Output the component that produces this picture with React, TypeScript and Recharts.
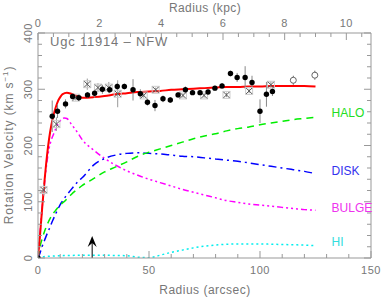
import {
    ComposedChart,
    Line,
    Scatter,
    XAxis,
    YAxis,
    ErrorBar,
    ReferenceLine,
    ReferenceDot
} from "recharts"

// model curves, radius in arcsec, velocity in km/s
const modelRadius = [0, 1, 2, 3, 4, 5, 6, 7, 8, 9, 10, 11, 12, 13, 15, 18, 20, 25, 30, 35, 40, 45, 50, 55, 60, 65, 70, 75, 80, 85, 90, 95, 100, 105, 110, 115, 120, 125]
const totalCurve = [0, 45, 95, 140, 180, 212, 236, 254, 268, 279, 286, 291, 293, 294, 292, 287, 285, 286, 288, 291, 293, 295, 296, 297, 299, 300, 301, 302, 303, 304, 304, 305, 305, 306, 306, 306, 306, 305]
const haloCurve = [0, 22, 36, 48, 58, 67, 74, 80, 85, 90, 94, 98, 101, 105, 113, 123, 129, 141, 153, 162, 171, 181, 188, 194, 200, 206, 212, 217, 221, 226, 230, 233, 237, 240, 243, 246, 248, 250]
const diskCurve = [0, 10, 22, 32, 42, 51, 61, 70, 79, 87, 95, 101, 107, 112, 122, 136, 143, 165, 177, 183, 186, 187, 186, 185, 183, 181, 180, 178, 176, 174, 172, 169, 166, 163, 160, 157, 154, 150]
const bulgeCurve = [0, 48, 95, 135, 170, 195, 210, 220, 230, 238, 244, 248, 249, 248, 238, 222, 210, 192, 177, 165, 155, 147, 140, 134, 128, 122, 117, 112, 107, 102, 99, 96, 94, 92, 90, 88, 86, 85]
const hiCurve = [0, 1, 2, 2.5, 3, 3, 3.5, 3.5, 4, 4, 4, 4, 4.5, 4.5, 4.5, 5, 5, 5, 5, 4.5, 4, 1.5, 0.5, 5, 10, 14, 18, 21, 23, 24.5, 25, 25, 25, 24.5, 24, 23.5, 23, 22]

// observed points
const filledRadius = [0, 6.4, 8.8, 12.4, 15.6, 18.4, 22.3, 25.5, 29, 32.3, 35.7, 38.9, 42.8, 46.1, 49.3, 52.7, 56.3, 59.6, 63.1, 66.4, 69.6, 73, 76.6, 79.7, 82.9, 86.7, 89.7, 93.3, 96.4, 100, 102.9, 105.6]
const filledVelocity = [0, 252, 261, 274, 287, 285, 290, 293, 300, 299, 305, 305, 299, 292, 277, 271, 283, 281, 290, 299, 294, 294, 295, 302, 306, 328, 321, 321, 312, 261, 291, 296]
const filledError = [0, 28, 12, 8, 5, 4, 5, 8, 8, 6, 6, 5, 19, 8, 6, 10, 6, 5, 5, 6, 4, 4, 4, 4, 5, 5, 8, 20, 12, 21, 22, 8]

const crossRadius = [2.5, 8.3, 17, 22.2, 27, 31.9, 35.9, 47.6, 53, 65.3, 74.8, 84.9, 95.1, 104.9]
const crossVelocity = [121, 238, 285, 309, 303, 303, 292, 289, 299, 289, 289, 290, 297, 308]
const crossError = [10, 12, 5, 10, 8, 10, 24, 4, 4, 4, 4, 4, 4, 6]

const openRadius = [115, 124.7]
const openVelocity = [316, 325]
const openError = [8, 8]

const arcsecTicks = [0, 10, 20, 30, 40, 50, 60, 70, 80, 90, 100, 110, 120, 130, 140, 150]
const kpcTicks = [0, 0.5, 1, 1.5, 2, 2.5, 3, 3.5, 4, 4.5, 5, 5.5, 6, 6.5, 7, 7.5, 8, 8.5, 9, 9.5, 10, 10.5]
const velocityTicks = [0, 20, 40, 60, 80, 100, 120, 140, 160, 180, 200, 220, 240, 260, 280, 300, 320, 340, 360, 380, 400]

const AXIS = "#999"
const TEXT = "#777"
const FONT = "'Liberation Sans', Arial, sans-serif"

const curve = (ys: number[]) => modelRadius.map((r, i) => ({ r, v: ys[i] }))
const points = (xs: number[], ys: number[], es: number[]) => xs.map((r, i) => ({ r, v: ys[i], err: es[i] }))

function BottomTick({ x, y, payload }: any) {
    const major = payload.value % 50 === 0
    return (
        <g>
            <line x1={x} x2={x} y1={y} y2={y - (major ? 7 : 4)} stroke={AXIS} />
            {major && (
                <text x={x} y={y + 16} textAnchor="middle" fontSize={11} fill={TEXT} fontFamily={FONT} letterSpacing={0.5}>
                    {payload.value}
                </text>
            )}
        </g>
    )
}

function TopTick({ x, y, payload }: any) {
    const major = payload.value % 2 === 0
    return (
        <g>
            <line x1={x} x2={x} y1={y} y2={y + (major ? 7 : 4)} stroke={AXIS} />
            {major && (
                <text x={x} y={y - 6} textAnchor="middle" fontSize={11} fill={TEXT} fontFamily={FONT} letterSpacing={0.5}>
                    {payload.value}
                </text>
            )}
        </g>
    )
}

function LeftTick({ x, y, payload }: any) {
    const major = payload.value % 100 === 0
    const tx = x - 6
    return (
        <g>
            <line x1={x} x2={x + (major ? 7 : 4)} y1={y} y2={y} stroke={AXIS} />
            {major && (
                <text x={tx} y={y} transform={`rotate(-90 ${tx} ${y})`} textAnchor="middle" fontSize={11} fill={TEXT} fontFamily={FONT} letterSpacing={0.5}>
                    {payload.value}
                </text>
            )}
        </g>
    )
}

function RightTick({ x, y, payload }: any) {
    const major = payload.value % 100 === 0
    return <line x1={x} x2={x - (major ? 7 : 4)} y1={y} y2={y} stroke={AXIS} />
}

const filledDot = (p: any) => <circle cx={p.cx} cy={p.cy} r={2.7} fill="#000" />
const crossDot = (p: any) => (
    <g>
        <rect x={p.cx - 3.5} y={p.cy - 3.5} width={7} height={7} fill="none" stroke="#ccc" />
        <path d={`M${p.cx - 3},${p.cy - 3}L${p.cx + 3},${p.cy + 3}M${p.cx - 3},${p.cy + 3}L${p.cx + 3},${p.cy - 3}`} stroke="#555" />
    </g>
)
const openDot = (p: any) => <circle cx={p.cx} cy={p.cy} r={3} fill="#fff" stroke="#666" />
const arrowHead = (p: any) => (
    <polygon points={`${p.cx},${p.cy} ${p.cx - 4.5},${p.cy + 11} ${p.cx},${p.cy + 7} ${p.cx + 4.5},${p.cy + 11}`} fill="#000" />
)

const labels = [
    { text: "HALO", v: 258, color: "#22dd22" },
    { text: "DISK", v: 156, color: "#3333ee" },
    { text: "BULGE", v: 90, color: "#ee33ee" },
    { text: "HI", v: 29, color: "#33dddd" }
]

export default function App() {
    return (
        <div style={{ position: "absolute", left: 0, top: 0, width: 381, height: 300, fontFamily: FONT, color: TEXT }}>
            <ComposedChart width={381} height={300} margin={{ top: 0, right: 0, bottom: 0, left: 0 }}>
                <XAxis xAxisId="bottom" dataKey="r" type="number" domain={[0, 150]} ticks={arcsecTicks} interval={0}
                       tickSize={0} tickMargin={0} tick={<BottomTick />} height={42} axisLine={{ stroke: AXIS }} allowDataOverflow />
                <XAxis xAxisId="top" orientation="top" dataKey="r" type="number" domain={[0, 10.8]} ticks={kpcTicks} interval={0}
                       tickSize={0} tickMargin={0} tick={<TopTick />} height={33} axisLine={{ stroke: AXIS }} allowDataOverflow />
                <YAxis yAxisId="left" dataKey="v" type="number" domain={[0, 400]} ticks={velocityTicks} interval={0}
                       tickSize={0} tickMargin={0} tick={<LeftTick />} width={38} axisLine={{ stroke: AXIS }} allowDataOverflow />
                <YAxis yAxisId="right" orientation="right" type="number" domain={[0, 400]} ticks={velocityTicks} interval={0}
                       tickSize={0} tickMargin={0} tick={<RightTick />} width={10} axisLine={{ stroke: AXIS }} allowDataOverflow />

                <Line xAxisId="bottom" yAxisId="left" data={curve(hiCurve)} dataKey="v" type="monotone" stroke="#00eeee"
                      strokeWidth={1.5} strokeDasharray="2 3" dot={false} isAnimationActive={false} />
                <Line xAxisId="bottom" yAxisId="left" data={curve(bulgeCurve)} dataKey="v" type="monotone" stroke="#ff00ff"
                      strokeWidth={1.5} strokeDasharray="6 3 2 3 2 3 2 3" dot={false} isAnimationActive={false} />
                <Line xAxisId="bottom" yAxisId="left" data={curve(diskCurve)} dataKey="v" type="monotone" stroke="#0000ff"
                      strokeWidth={1.5} strokeDasharray="8 4 2 4" dot={false} isAnimationActive={false} />
                <Line xAxisId="bottom" yAxisId="left" data={curve(haloCurve)} dataKey="v" type="monotone" stroke="#00ee00"
                      strokeWidth={1.5} strokeDasharray="7 5" dot={false} isAnimationActive={false} />
                <Line xAxisId="bottom" yAxisId="left" data={curve(totalCurve)} dataKey="v" type="monotone" stroke="#ff0000"
                      strokeWidth={2} dot={false} isAnimationActive={false} />

                <Scatter xAxisId="bottom" yAxisId="left" data={points(crossRadius, crossVelocity, crossError)} dataKey="v"
                         shape={crossDot} isAnimationActive={false}>
                    <ErrorBar dataKey="err" direction="y" width={0} stroke="#999" strokeWidth={1} />
                </Scatter>
                <Scatter xAxisId="bottom" yAxisId="left" data={points(filledRadius, filledVelocity, filledError)} dataKey="v"
                         shape={filledDot} isAnimationActive={false}>
                    <ErrorBar dataKey="err" direction="y" width={0} stroke="#888" strokeWidth={1} />
                </Scatter>
                <Scatter xAxisId="bottom" yAxisId="left" data={points(openRadius, openVelocity, openError)} dataKey="v"
                         shape={openDot} isAnimationActive={false}>
                    <ErrorBar dataKey="err" direction="y" width={0} stroke="#666" strokeWidth={1} />
                </Scatter>

                <ReferenceLine xAxisId="bottom" yAxisId="left" segment={[{ x: 24.4, y: 0 }, { x: 24.4, y: 30 }]} stroke="#000" />
                <ReferenceDot xAxisId="bottom" yAxisId="left" x={24.4} y={39} r={4} shape={arrowHead} />

                {labels.map(l => (
                    <ReferenceDot key={l.text} xAxisId="bottom" yAxisId="left" x={130} y={l.v} r={1} fill="none" stroke="none"
                                  label={{ value: l.text, position: "right", offset: 4, fill: l.color, fontSize: 12, fontFamily: FONT }} />
                ))}
            </ComposedChart>

            <div style={{ position: "absolute", left: 50, top: 34, fontSize: 13, lineHeight: "15px", letterSpacing: 0.8, whiteSpace: "nowrap" }}>
                Ugc 11914 – NFW
            </div>
            <div style={{ position: "absolute", left: 205, top: 8, transform: "translate(-50%, -50%)", fontSize: 12, letterSpacing: 0.4, whiteSpace: "nowrap" }}>
                Radius (kpc)
            </div>
            <div style={{ position: "absolute", left: 205, top: 290, transform: "translate(-50%, -50%)", fontSize: 12, letterSpacing: 0.5, whiteSpace: "nowrap" }}>
                Radius (arcsec)
            </div>
            <div style={{ position: "absolute", left: 9, top: 145, transform: "translate(-50%, -50%) rotate(-90deg)", fontSize: 12, lineHeight: "14px", letterSpacing: 0.9, whiteSpace: "nowrap" }}>
                Rotation Velocity (km s<sup style={{ fontSize: 8, lineHeight: 0 }}>−1</sup>)
            </div>
        </div>
    )
}
